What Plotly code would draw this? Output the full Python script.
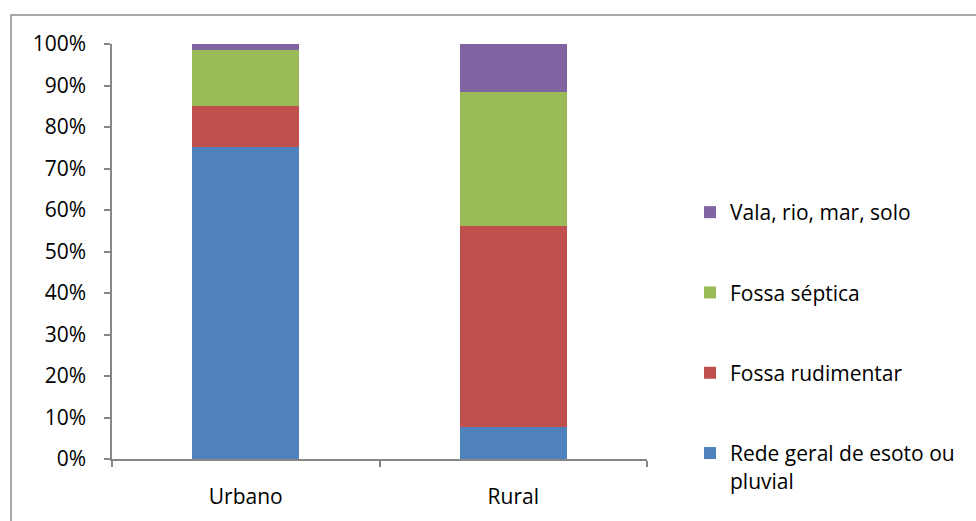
import plotly.graph_objects as go

# Categories and series shares (%)
categories = ["Urbano", "Rural"]
series_names = [
    "Rede geral de esoto ou<br>pluvial",
    "Fossa rudimentar",
    "Fossa séptica",
    "Vala, rio, mar, solo",
]
rede_geral = [75.2, 7.7]
fossa_rudimentar = [9.9, 48.4]
fossa_septica = [13.4, 32.3]
vala_rio = [1.5, 11.6]
colors = ["#4F81BD", "#C0504D", "#9BBB59", "#8064A2"]

y_ticks = [0, 10, 20, 30, 40, 50, 60, 70, 80, 90, 100]
y_tick_labels = [f"{v}%" for v in y_ticks]

FONT = "Open Sans"
FS = 21
AXIS_GRAY = "#868686"

fig = go.Figure()
series = [rede_geral, fossa_rudimentar, fossa_septica, vala_rio]
for i, (name, vals, col) in enumerate(zip(series_names, series, colors)):
    fig.add_trace(go.Bar(
        x=categories, y=vals, name=name, legendgroup=name,
        legendrank=len(series) - i,
        marker=dict(color=col, line=dict(width=0)),
        width=0.4,
    ))

# plot area in pixels
W, H = 976, 521
L, R, T, B = 112, 329, 44, 62
pw, ph = W - L - R, H - T - B

def px_x(x):
    return (x - L) / pw

def px_y(y):
    return (H - B - y) / ph

fig.update_layout(
    width=W, height=H,
    barmode="stack",
    margin=dict(l=L, r=R, t=T, b=B, pad=0),
    paper_bgcolor="white", plot_bgcolor="white",
    font=dict(family=FONT, size=FS, color="#000000"),
    showlegend=True,
    legend=dict(
        traceorder="grouped",
        tracegroupgap=50,
        x=px_x(690), xanchor="left",
        y=px_y(192), yanchor="top",
        valign="top",
        font=dict(family=FONT, size=FS, color="#000000"),
        itemclick=False,
    ),
    xaxis=dict(
        range=[-0.5, 1.5],
        showline=True, linecolor=AXIS_GRAY, linewidth=1.5,
        ticks="outside", ticklen=6, tickcolor=AXIS_GRAY, tickwidth=1.5,
        tickson="boundaries",
        showgrid=False, zeroline=False,
        ticklabelstandoff=18,
        tickfont=dict(family=FONT, size=FS),
    ),
    yaxis=dict(
        range=[0, 100],
        tickvals=y_ticks, ticktext=y_tick_labels,
        showline=True, linecolor=AXIS_GRAY, linewidth=1.5,
        ticks="outside", ticklen=6, tickcolor=AXIS_GRAY, tickwidth=1.5,
        showgrid=False, zeroline=False,
        ticklabelstandoff=14,
        tickfont=dict(family=FONT, size=FS),
    ),
    shapes=[dict(
        type="rect", xref="paper", yref="paper",
        x0=px_x(11), x1=px_x(990), y0=px_y(540), y1=px_y(15),
        line=dict(color="#8c8c8c", width=1.5), fillcolor="rgba(0,0,0,0)",
        layer="below",
    )],
)

fig.write_html("out.html")
